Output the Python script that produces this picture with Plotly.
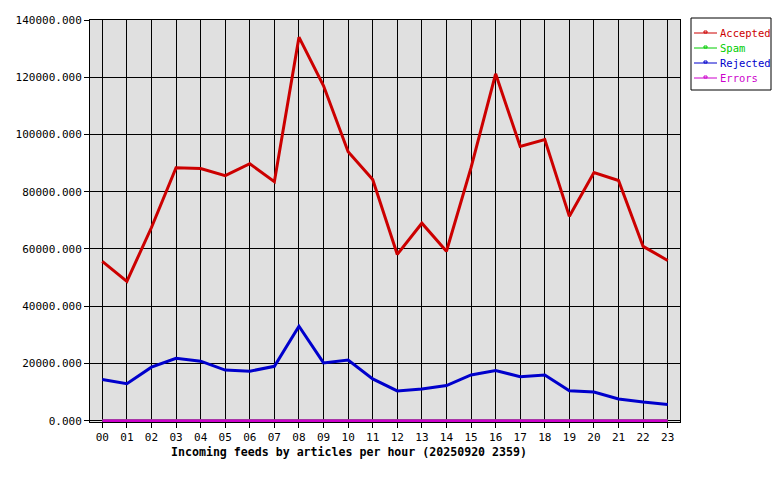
import plotly.graph_objects as go

hours = [f"{h:02d}" for h in range(24)]
accepted = [55700, 48700, 67500, 88400, 88100, 85600, 89800, 83500, 134000, 117000, 94000, 84300,
            58100, 69000, 59200, 88400, 121200, 95800, 98200, 71400, 86700, 83900, 60900, 56000]
spam = [0] * 24
rejected = [14400, 12900, 18700, 21800, 20800, 17700, 17300, 19000, 33000, 20200, 21200, 14600,
            10400, 11100, 12300, 16000, 17500, 15400, 16000, 10500, 10000, 7600, 6500, 5700]
errors = [0] * 24

series = [("Accepted", accepted, "#cc0000"), ("Spam", spam, "#00cc00"),
          ("Rejected", rejected, "#0000cc"), ("Errors", errors, "#cc00cc")]

W, H = 780, 480
L, R, T, B = 90, 100, 20, 58
PW, PH = W - L - R, H - T - B


def px(x):
    return (x - L) / PW


def py(y):
    return (H - B - y) / PH


fig = go.Figure()
for name, vals, col in series:
    fig.add_trace(go.Scatter(x=hours, y=vals, name=name, mode="lines",
                             line=dict(color=col, width=3), showlegend=False))

font = "DejaVu Sans Mono, monospace"
shapes = [dict(type="rect", xref="paper", yref="paper", x0=px(691), x1=px(771),
               y0=py(90), y1=py(18), line=dict(color="black", width=1), fillcolor="white")]
annotations = []
for i, (name, vals, col) in enumerate(series):
    yy = 33 + 15 * i
    shapes.append(dict(type="line", xref="paper", yref="paper", x0=px(694), x1=px(717),
                       y0=py(yy), y1=py(yy), line=dict(color=col, width=1)))
    shapes.append(dict(type="rect", xref="paper", yref="paper", x0=px(704), x1=px(707),
                       y0=py(yy), y1=py(yy - 2), line=dict(color=col, width=1)))
    annotations.append(dict(text=name, xref="paper", yref="paper", x=px(718), y=py(yy),
                            xanchor="left", yanchor="middle", showarrow=False,
                            font=dict(family=font, size=10.5, color=col)))
annotations.append(dict(text="<b>Incoming feeds by articles per hour (20250920 2359)</b>",
                        xref="paper", yref="paper", x=px(349), y=py(452),
                        xanchor="center", yanchor="middle", showarrow=False,
                        font=dict(family=font, size=11.6, color="black")))

fig.update_layout(
    width=W, height=H,
    margin=dict(l=L, r=R, t=T, b=B, autoexpand=False),
    paper_bgcolor="white", plot_bgcolor="#e0e0e0",
    font=dict(family=font, size=11, color="black"),
    showlegend=False,
    shapes=shapes, annotations=annotations,
    xaxis=dict(type="category", range=[-0.5, 23.5], showgrid=True, gridcolor="black", gridwidth=1,
               showline=True, linecolor="black", linewidth=1, mirror=True,
               ticks="outside", ticklen=5, tickcolor="black"),
    yaxis=dict(range=[-450, 140000], tickvals=[0, 20000, 40000, 60000, 80000, 100000, 120000, 140000],
               tickformat=".3f", showgrid=True,
               gridcolor="black", gridwidth=1, zeroline=False,
               showline=True, linecolor="black", linewidth=1, mirror=True,
               ticks="outside", ticklen=5, tickcolor="black"),
)
fig.write_html("out.html")
